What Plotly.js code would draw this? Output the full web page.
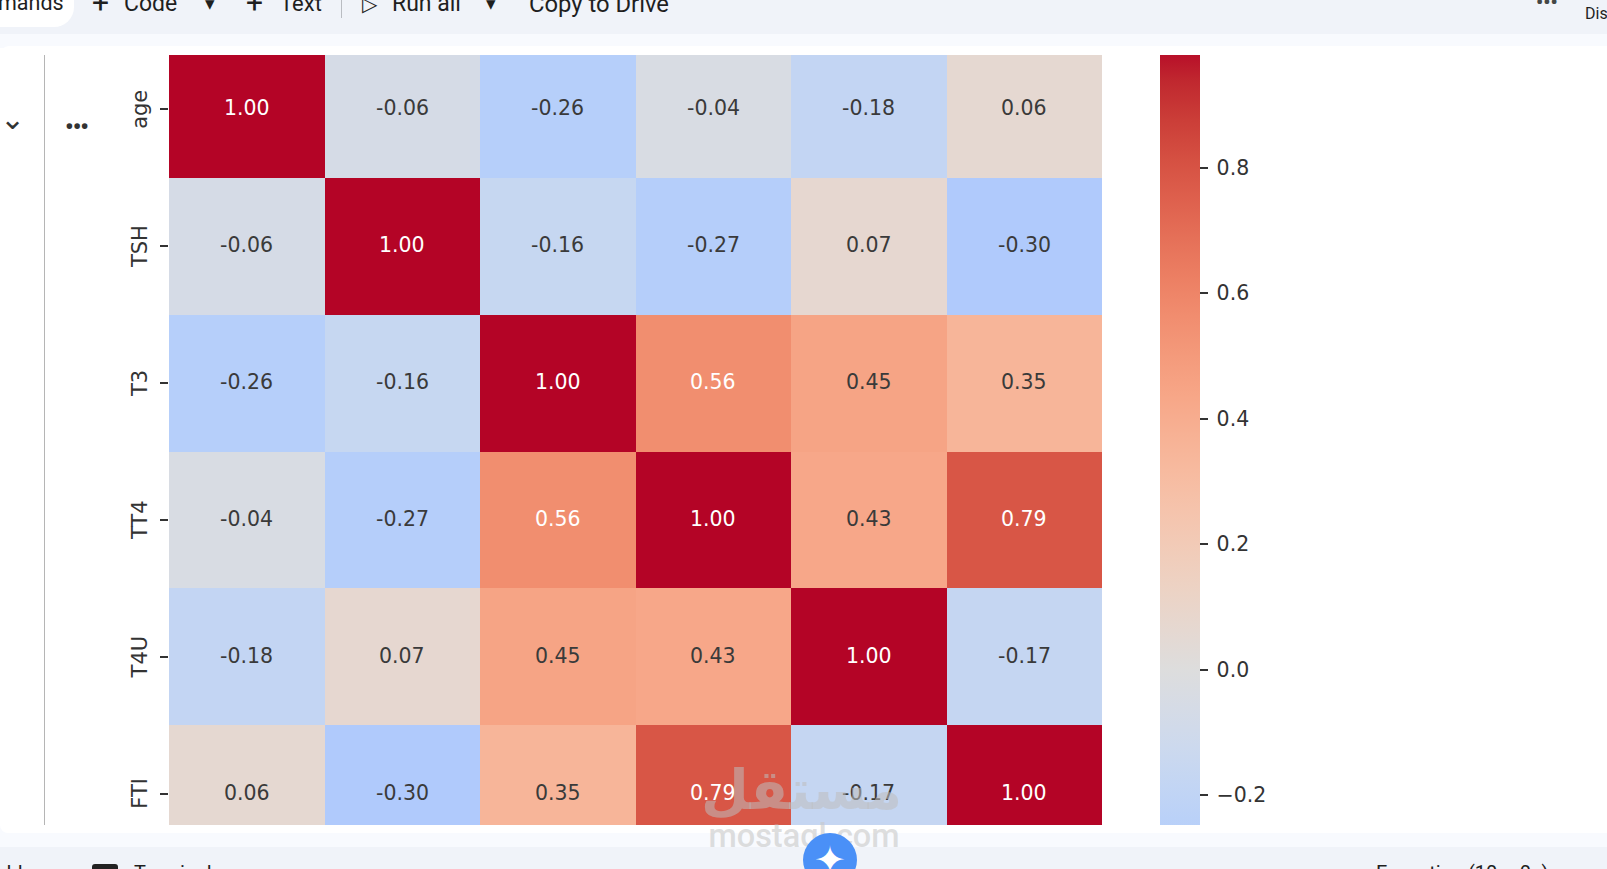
<!DOCTYPE html>
<html><head><meta charset="utf-8">
<script src="https://cdn.plot.ly/plotly-3.0.1.min.js"></script>
<style>
html,body{margin:0;padding:0;background:#fff;overflow:hidden;width:1607px;height:869px}
#chart{position:absolute;left:0;top:0;width:1607px;height:869px}
.o{position:absolute;pointer-events:none}
.t{position:absolute;font-family:Roboto,sans-serif;font-size:23px;color:#1f1f1f;white-space:nowrap;line-height:24px}
</style></head><body>
<div id="chart"></div>

<!-- notebook window around the clipped figure -->
<div class="o" style="left:0;top:0;width:1607px;height:34px;background:#f0f3f9"></div>
<div class="o" style="left:0;top:34px;width:1607px;height:14px;background:#f8fafe"></div>
<div class="o" style="left:0;top:46px;width:1607px;height:9px;background:#fff;border-top-left-radius:14px"></div>
<div class="o" style="left:0;top:825px;width:1607px;height:22px;background:#f8fafe"></div>
<div class="o" style="left:0;top:825px;width:1607px;height:8px;background:#fff;border-bottom-left-radius:14px"></div>
<div class="o" style="left:0;top:847px;width:1607px;height:22px;background:#f0f3f9"></div>
<div class="o" style="left:44px;top:55px;width:1px;height:770px;background:#b5b5b5"></div>

<div class="o" style="left:0;top:0;width:74px;height:27px;background:#fff;border-bottom-right-radius:20px"></div>
<div class="t" style="left:-2px;top:-9px;font-size:21.5px">mands</div>
<div class="t" style="left:92px;top:-9px;font-size:30px">+</div>
<div class="t" style="left:124px;top:-8px">Code</div>
<div class="t" style="left:205px;top:-8px;font-size:19px">&#9662;</div>
<div class="t" style="left:246px;top:-9px;font-size:30px">+</div>
<div class="t" style="left:280px;top:-8px;font-size:22px">Text</div>
<div class="o" style="left:341px;top:0;width:1px;height:18px;background:#b9bcc2"></div>
<div class="t" style="left:362px;top:-8px;font-size:20px">&#9655;</div>
<div class="t" style="left:392px;top:-8px">Run all</div>
<div class="t" style="left:486px;top:-8px;font-size:19px">&#9662;</div>
<div class="t" style="left:529px;top:-8px;font-size:23.8px">Copy to Drive</div>
<div class="t" style="left:1536px;top:-10px;font-size:20px;color:#444746;font-weight:700">&#8226;&#8226;&#8226;</div>
<div class="t" style="left:1585px;top:2px;font-size:16px">Dis</div>
<div class="t" style="left:0;top:107px;font-size:30px;color:#333">&#8964;</div>
<div class="t" style="left:65px;top:115px;font-size:24px;color:#333;font-weight:700;letter-spacing:-1px">&#8226;&#8226;&#8226;</div>
<div class="t" style="left:0;top:861px;font-size:20px">dd</div>
<div class="o" style="left:92px;top:864px;width:26px;height:8px;background:#222;border-radius:3px"></div>
<div class="t" style="left:134px;top:861px;font-size:20px">Terminal</div>
<div class="t" style="left:1376px;top:861px;font-size:20px">Execution (10m 0s)</div>

<div class="t" style="left:701px;top:745px;width:194px;text-align:center;font-family:'DejaVu Sans';font-size:55px;line-height:90px;font-weight:700;color:rgba(190,190,190,.55)">مستقل</div>
<div class="t" style="left:700px;top:818px;width:208px;text-align:center;font-family:Roboto;font-size:32.5px;line-height:36px;font-weight:500;color:rgba(200,200,200,.6)">mostaql.com</div>
<div class="o" style="left:803px;top:833px;width:54px;height:54px;border-radius:50%;background:#4a90f7"></div>
<div class="t" style="left:810px;top:841px;width:40px;text-align:center;color:#fff;font-size:38px;line-height:38px">&#10022;</div>

<script>
var labels = ["age", "TSH", "T3", "TT4", "T4U", "FTI"];
var rowAge = [1.00, -0.06, -0.26, -0.04, -0.18, 0.06];
var rowTSH = [-0.06, 1.00, -0.16, -0.27, 0.07, -0.30];
var rowT3  = [-0.26, -0.16, 1.00, 0.56, 0.45, 0.35];
var rowTT4 = [-0.04, -0.27, 0.56, 1.00, 0.43, 0.79];
var rowT4U = [-0.18, 0.07, 0.45, 0.43, 1.00, -0.17];
var rowFTI = [0.06, -0.30, 0.35, 0.79, -0.17, 1.00];
var matrix = [rowAge, rowTSH, rowT3, rowTT4, rowT4U, rowFTI];

var zMin = -0.30, zMax = 1.00;
var colorbarTicks = [-0.2, 0, 0.2, 0.4, 0.6, 0.8];

// upper part of the coolwarm map, as a centred heatmap trims it
var coolwarmPos = [0.35,0.375,0.40625,0.4375,0.46875,0.5,0.53125,0.5625,0.59375,0.625,0.65625,0.6875,0.71875,0.75,0.78125,0.8125,0.84375,0.875,0.90625,0.9375,0.96875,1];
var coolwarmCol = ["rgb(176,202,252)","rgb(184,208,249)","rgb(194,213,244)","rgb(204,217,238)","rgb(213,219,230)","rgb(221,221,221)","rgb(229,216,209)","rgb(236,211,197)","rgb(241,204,185)","rgb(245,196,173)","rgb(247,187,160)","rgb(247,177,148)","rgb(247,166,135)","rgb(244,154,123)","rgb(241,141,111)","rgb(236,127,99)","rgb(229,112,88)","rgb(222,96,77)","rgb(213,80,66)","rgb(203,62,56)","rgb(192,40,47)","rgb(180,4,38)"];
var colorscale = coolwarmPos.map(function (c, i) {
  var v = 2 * c - 1;
  return [Math.min(1, Math.max(0, (v - zMin) / (zMax - zMin))), coolwarmCol[i]];
});

var font = "'DejaVu Sans', sans-serif";
var annotations = [];
matrix.forEach(function (row, r) {
  row.forEach(function (v, c) {
    annotations.push({
      x: labels[c], y: labels[r], xref: "x", yref: "y", yshift: 1,
      text: v.toFixed(2), showarrow: false,
      font: {family: font, size: 20.5, color: v >= 0.5 ? "#ffffff" : "#3a3a3a"}
    });
  });
});

Plotly.newPlot("chart", [{
  type: "heatmap",
  x: labels, y: labels, z: matrix,
  zmin: zMin, zmax: zMax,
  colorscale: colorscale,
  xgap: 0, ygap: 0,
  hoverongaps: false,
  colorbar: {
    thickness: 40, thicknessmode: "pixels",
    len: 816, lenmode: "pixels",
    x: 1.0622, xanchor: "left", xpad: 0,
    y: 0.5018, yanchor: "middle", ypad: 0,
    outlinewidth: 0, borderwidth: 0,
    tickmode: "array", tickvals: colorbarTicks,
    tickformat: ".1f",
    ticks: "outside", ticklen: 8, tickwidth: 1.6, tickcolor: "#333333",
    tickfont: {family: font, size: 20.5, color: "#333333"}
  }
}], {
  width: 1607, height: 869,
  margin: {l: 169, r: 505, t: 41, b: 7, pad: 0},
  paper_bgcolor: "#ffffff", plot_bgcolor: "#ffffff",
  font: {family: font},
  xaxis: {type: "category", showticklabels: false, ticks: "", showgrid: false, zeroline: false, showline: false},
  yaxis: {
    type: "category", autorange: "reversed", showgrid: false, zeroline: false, showline: false,
    ticks: "outside", ticklen: 8, tickwidth: 1.6, tickcolor: "#333333",
    ticklabelstandoff: 5, ticklabelshift: -3,
    tickangle: -90, tickfont: {family: font, size: 21, color: "#333333"}
  },
  annotations: annotations
}, {displayModeBar: false, responsive: false}).then(function () {
  // open the same gap between colour-bar ticks and their labels as the reference
  document.querySelectorAll("#chart .colorbar text").forEach(function (t) {
    if (/^[\u2212\-]?\d\.\d$/.test(t.textContent)) {
      t.setAttribute("x", parseFloat(t.getAttribute("x")) + 5);
    }
  });
});
</script>
</body></html>
